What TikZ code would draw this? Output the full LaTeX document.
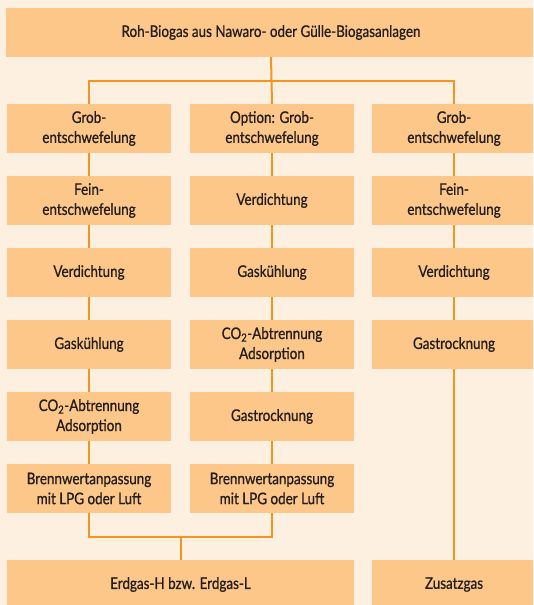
\documentclass[tikz,border=0pt]{standalone}
\usepackage{fontspec}
\setmainfont{Lato}[FakeStretch=0.84,FakeBold=0.8]
\definecolor{bgc}{HTML}{FDF0E1}
\definecolor{boxc}{HTML}{FDC78A}
\definecolor{linec}{HTML}{F5951F}
\definecolor{txtc}{HTML}{231E1A}
\begin{document}
\begin{tikzpicture}[x=1pt,y=-1pt,
  box/.style={fill=boxc, text=txtc, minimum width=164pt, minimum height=49pt,
    align=center, inner sep=0pt, font=\fontsize{16}{20}\selectfont},
  conn/.style={draw=linec, line width=2pt, line join=miter}]
\clip (0,0) rectangle (533,605);
\fill[bgc] (0,0) rectangle (533,605);
% top
\node[box, minimum width=530pt] (top) at (271,32.5) {Roh-Biogas aus Nawaro- oder Gülle-Biogasanlagen};
% column 1
\node[box] (a1) at (89,128.5) {Grob-\\entschwefelung};
\node[box] (a2) at (89,200.5) {Fein-\\entschwefelung};
\node[box] (a3) at (89,272.5) {Verdichtung};
\node[box] (a4) at (89,344.5) {Gaskühlung};
\node[box] (a5) at (89,416.5) {CO\textsubscript{2}-Abtrennung\\Adsorption};
\node[box] (a6) at (89,488.5) {Brennwertanpassung\\mit LPG oder Luft};
% column 2
\node[box] (b1) at (272,128.5) {Option: Grob-\\entschwefelung};
\node[box] (b2) at (272,200.5) {Verdichtung};
\node[box] (b3) at (272,272.5) {Gaskühlung};
\node[box] (b4) at (272,344.5) {CO\textsubscript{2}-Abtrennung\\Adsorption};
\node[box] (b5) at (272,416.5) {Gastrocknung};
\node[box] (b6) at (272,488.5) {Brennwertanpassung\\mit LPG oder Luft};
% column 3
\node[box] (d1) at (454,128.5) {Grob-\\entschwefelung};
\node[box] (d2) at (454,200.5) {Fein-\\entschwefelung};
\node[box] (d3) at (454,272.5) {Verdichtung};
\node[box] (d4) at (454,344.5) {Gastrocknung};
% bottom
\node[box, minimum width=347pt] (erd) at (180.5,584.5) {Erdgas-H bzw. Erdgas-L};
\node[box] (zus) at (454,584.5) {Zusatzgas};
% connectors
\coordinate (split) at (271,81);
\coordinate (join) at (180.5,537);
\draw[conn] (top.south) -- (b1.north);
\draw[conn] (a1.north) |- (split) -| (d1.north);
\draw[conn] (a1) -- (a2); \draw[conn] (a2) -- (a3); \draw[conn] (a3) -- (a4);
\draw[conn] (a4) -- (a5); \draw[conn] (a5) -- (a6);
\draw[conn] (b1) -- (b2); \draw[conn] (b2) -- (b3); \draw[conn] (b3) -- (b4);
\draw[conn] (b4) -- (b5); \draw[conn] (b5) -- (b6);
\draw[conn] (d1) -- (d2); \draw[conn] (d2) -- (d3); \draw[conn] (d3) -- (d4);
\draw[conn] (d4) -- (zus);
\draw[conn] (a6.south) |- (join) -| (b6.south);
\draw[conn] (join) -- (erd.north);
\end{tikzpicture}
\end{document}
